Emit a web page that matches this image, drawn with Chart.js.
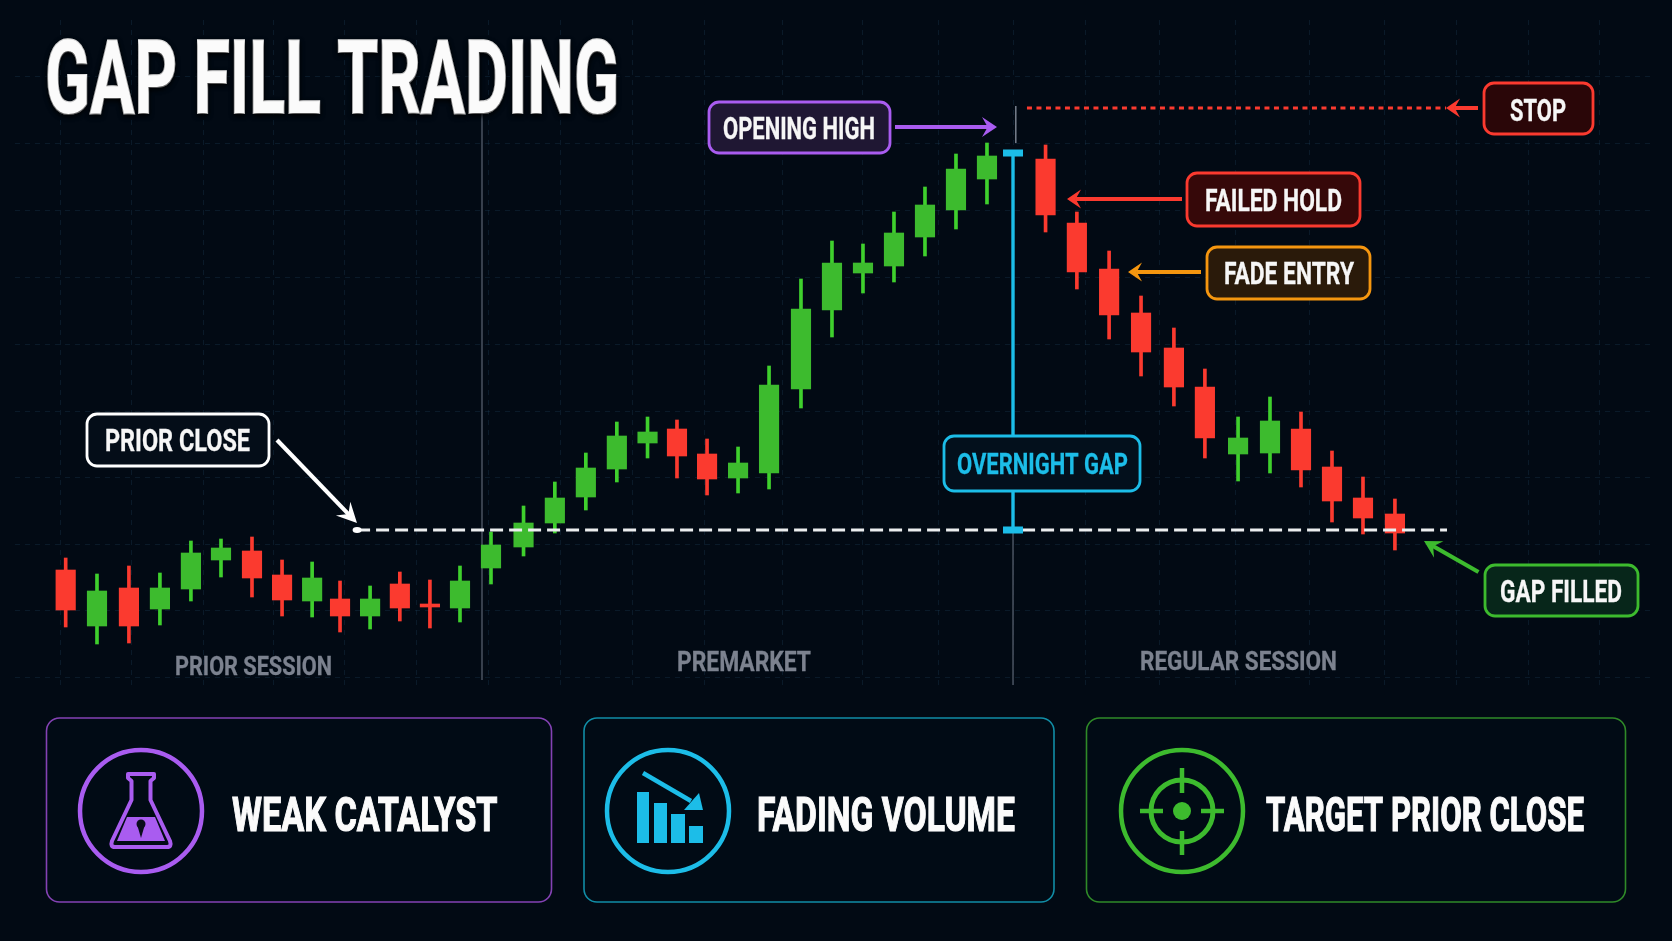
<!DOCTYPE html>
<html>
<head>
<meta charset="utf-8">
<title>Gap Fill Trading</title>
<style>
html,body{margin:0;padding:0;background:#020a14;overflow:hidden}
canvas{display:block}
</style>
<script src="https://cdn.jsdelivr.net/npm/chart.js@4/dist/chart.umd.min.js"></script>
</head>
<body>
<canvas id="c" width="1672" height="941"></canvas>
<script>
// ---- data ----
const slots=[0,1.01,2.04,3.04,4.04,5.01,6.01,6.98,7.95,8.85,9.82,10.78,11.75,12.72,13.72,14.77,15.78,16.78,17.78,18.77,19.72,20.69,21.69,22.69,23.72,24.72,25.72,26.72,27.72,28.72,29.72,31.61,32.62,33.66,34.69,35.75,36.75,37.82,38.85,39.85,40.85,41.85,42.88];
const opens =[96.0,90.4,94.2,92.1,94.1,97.0,97.9,95.5,92.9,93.1,91.4,94.6,92.6,92.2,96.2,98.3,100.7,103.3,106.1,108.7,110.1,107.6,105.2,105.7,114.1,122.0,125.7,126.4,129.3,132.0,135.1,137.1,130.7,126.1,121.7,118.2,114.3,107.6,107.7,110.1,106.3,103.2,101.6];
const closes=[92.0,93.9,90.4,94.2,97.7,98.2,95.2,93.0,95.2,91.4,93.1,92.2,92.3,94.9,98.5,100.7,103.2,106.2,109.4,109.8,107.4,105.1,106.7,114.5,122.1,126.7,126.7,129.7,132.5,136.1,137.4,131.5,125.8,121.5,117.8,114.3,109.2,109.2,110.9,106.0,102.9,101.2,99.7];
const highs =[97.2,95.6,96.4,95.7,98.9,99.1,99.3,97.0,96.8,94.9,94.4,95.8,95.0,96.4,99.8,102.4,104.8,107.7,110.8,111.3,111.0,109.1,108.3,116.4,125.1,128.9,128.6,131.8,134.3,137.6,138.7,138.5,131.8,127.9,123.4,120.2,116.1,111.3,113.3,111.8,107.9,105.3,103.1];
const lows  =[90.3,88.6,88.7,90.5,92.9,95.3,93.3,91.4,91.3,89.8,90.1,90.9,90.2,90.8,94.6,97.4,99.7,102.0,104.8,107.2,105.2,103.5,103.7,104.1,112.2,119.3,123.7,124.8,127.4,130.1,132.6,129.8,124.1,119.1,115.4,112.4,107.2,104.9,105.7,104.3,100.8,99.6,98.0];
const priorClose=100, gapTop=137.7, stopLevel=142.2;
const gridSlots=[-0.18,2.11,4.43,6.72,9.01,11.33,13.65,15.97,18.27,20.62,23.11,25.72,28.17,30.56,32.91,35.3,37.75,40.14,42.56,44.88,47.2,49.49];
const gridPrices=[145.3,138.7,132,125.3,118.6,111.9,105.2,98.6,92,85.3];
const titleText="GAP FILL TRADING";
const sessions=["PRIOR SESSION","PREMARKET","REGULAR SESSION"];
const calloutTexts=["PRIOR CLOSE","OPENING HIGH","STOP","FAILED HOLD","FADE ENTRY","OVERNIGHT GAP","GAP FILLED"];
const cardTexts=["WEAK CATALYST","FADING VOLUME","TARGET PRIOR CLOSE"];

// ---- styles ----
const GREEN='#3dbb2e',GREENW='#3fd02d',RED='#fb3a2f',PURPLE='#a95cf0',CYAN='#1cbde8',ORANGE='#f5960f',WHITE='#ffffff',GREY='#4f5765',BG='#020a14';
const FONT='"Liberation Sans Narrow","Roboto","Liberation Sans",sans-serif';
const up=i=>closes[i]>=opens[i];

function fitText(ctx,t,l,r,capTop,capBot,color,extra){
  ctx.save();
  ctx.font='bold 100px '+FONT;
  const capRef=ctx.measureText('H').actualBoundingBoxAscent||72;
  const size=100*(capBot-capTop)/capRef;
  ctx.font='bold '+size+'px '+FONT;
  const w=ctx.measureText(t).width;
  ctx.textBaseline='alphabetic';ctx.textAlign='left';
  ctx.translate(l,capBot);ctx.scale((r-l)/w,1);
  ctx.fillStyle=color;
  if(extra&&extra.stroke){ctx.strokeStyle=color;ctx.lineWidth=extra.stroke;ctx.lineJoin='miter';ctx.miterLimit=3;ctx.strokeText(t,0,0);}
  ctx.fillText(t,0,0);
  ctx.restore();
}
function rr(ctx,x,y,w,h,r,fill,stroke,lw){
  ctx.beginPath();ctx.roundRect(x,y,w,h,r);
  if(fill){ctx.fillStyle=fill;ctx.fill();}
  if(stroke){ctx.strokeStyle=stroke;ctx.lineWidth=lw;ctx.stroke();}
}
function arrow(ctx,x1,y1,x2,y2,color,lw,len,half){
  const a=Math.atan2(y2-y1,x2-x1),c=Math.cos(a),s=Math.sin(a);
  ctx.strokeStyle=color;ctx.fillStyle=color;ctx.lineWidth=lw;
  ctx.beginPath();ctx.moveTo(x1,y1);ctx.lineTo(x2-c*len*0.6,y2-s*len*0.6);ctx.stroke();
  ctx.beginPath();ctx.moveTo(x2,y2);
  ctx.lineTo(x2-c*len-s*half,y2-s*len+c*half);
  ctx.lineTo(x2-c*len*0.62,y2-s*len*0.62);
  ctx.lineTo(x2-c*len+s*half,y2-s*len-c*half);
  ctx.closePath();ctx.fill();
}
function callout(ctx,t,b,tx,color,fill){
  rr(ctx,b[0],b[1],b[2]-b[0],b[3]-b[1],10,fill,color,2.8);
  fitText(ctx,t,tx[0],tx[1],tx[2],tx[3],tx[4]||'#f6f6f6',{stroke:0.3});
}
function lineSet(data,color,width,dash,order){
  return {type:'line',data,borderColor:color,borderWidth:width,borderDash:dash||[],pointRadius:0,order,tension:0,fill:false,parsing:{xAxisKey:'x',yAxisKey:'y'}};
}

const annotations={
  id:'annotations',
  beforeDraw(chart){
    const c=chart.ctx;c.save();c.fillStyle=BG;c.fillRect(0,0,chart.width,chart.height);c.restore();
  },
  afterDatasetsDraw(chart){
    const c=chart.ctx,X=chart.scales.x,Y=chart.scales.y;
    c.save();c.lineCap='butt';
    // gap caps
    const gx=X.getPixelForValue(30.56);
    c.fillStyle=CYAN;
    c.fillRect(gx-10,Y.getPixelForValue(gapTop)-3.5,20,7);
    c.fillRect(gx-10,Y.getPixelForValue(priorClose)-3.5,20,7);
    // prior close dot
    c.fillStyle=WHITE;c.beginPath();c.ellipse(X.getPixelForValue(9.4),Y.getPixelForValue(priorClose),4.5,3,0,0,7);c.fill();
    // title
    c.save();c.shadowColor='rgba(0,0,0,.9)';c.shadowBlur=5;c.shadowOffsetY=2;
    fitText(c,titleText,45,619,39,113,'#fbfbfb',{stroke:2.2});
    c.restore();
    // session labels
    const sc='#7c828f';
    fitText(c,sessions[0],175,332,657,675,sc,{stroke:.3});
    fitText(c,sessions[1],677,811,651,671,sc,{stroke:.3});
    fitText(c,sessions[2],1140,1337,651,670,sc,{stroke:.3});
    // arrows
    arrow(c,277,440,357,523,WHITE,4.2,20,10);
    arrow(c,895,127,997,127,PURPLE,4.2,15,10);
    arrow(c,1478,108,1446,108,RED,4,14,9.5);
    arrow(c,1182,199,1067,199,RED,4,14,9.5);
    arrow(c,1201,272,1128,272,ORANGE,4,14,9.5);
    arrow(c,1478.5,572,1424,541,GREEN,4.2,17,9.5);
    // callouts
    callout(c,calloutTexts[0],[87,414,269,466],[105,250,429,451],WHITE,'#040d18');
    callout(c,calloutTexts[1],[709,102,890,153],[723,875,117,139],PURPLE,'#1f1733');
    callout(c,calloutTexts[2],[1484,83,1593,134],[1510,1566,98,121],RED,'#2a0608');
    callout(c,calloutTexts[3],[1187,173,1360,226],[1205,1342,188,211],RED,'#360809');
    callout(c,calloutTexts[4],[1207,247,1370,299],[1224,1354,262,284],ORANGE,'#2a1a0a');
    callout(c,calloutTexts[5],[944,436,1140,491],[957,1128,453,474,CYAN],CYAN,'#03101c');
    callout(c,calloutTexts[6],[1485,565,1638,616],[1500,1622,580,602],GREEN,'#07261a');
    // cards
    const cardY=718,cardH=184;
    rr(c,46.5,cardY,505,cardH,13,'#010b15','#8442b4',1.6);
    rr(c,584,cardY,470,cardH,13,'#010b15','#118da6',1.6);
    rr(c,1086.5,cardY,539,cardH,13,'#010b15','#2f8a28',1.6);
    fitText(c,cardTexts[0],232,497.5,796,831,'#fbfbfb',{stroke:1.2});
    fitText(c,cardTexts[1],757,1015,796,831,'#fbfbfb',{stroke:1.2});
    fitText(c,cardTexts[2],1266,1584,796,831,'#fbfbfb',{stroke:1.2});
    // icon 1: flask
    const cy=811,R=61;
    c.lineWidth=4.5;c.strokeStyle=PURPLE;c.beginPath();c.arc(141,cy,R,0,7);c.stroke();
    c.lineWidth=4;c.lineJoin='round';
    c.beginPath();c.moveTo(128,774);c.lineTo(154,774);c.lineTo(154,778);c.lineTo(150.5,781);c.lineTo(150.5,800);
    c.lineTo(170,841);c.quadraticCurveTo(172,847,167,847);c.lineTo(115,847);c.quadraticCurveTo(110,847,112,841);
    c.lineTo(131.5,800);c.lineTo(131.5,781);c.lineTo(128,778);c.closePath();c.stroke();
    c.fillStyle=PURPLE;
    c.beginPath();c.moveTo(127,817);c.lineTo(155,817);c.lineTo(165,841);c.lineTo(117,841);c.closePath();c.fill();
    c.fillStyle='#0a0d1c';
    c.beginPath();c.arc(141,824,4.5,0,7);c.fill();
    c.beginPath();c.moveTo(137.5,826);c.lineTo(144.5,826);c.lineTo(141,838);c.closePath();c.fill();
    // icon 2: bars
    c.lineWidth=4.5;c.strokeStyle=CYAN;c.beginPath();c.arc(668,cy,R,0,7);c.stroke();
    c.fillStyle=CYAN;
    c.fillRect(637,792,12,51);c.fillRect(654,803,13,40);c.fillRect(671,814,14,29);c.fillRect(689,826,14,17);
    c.beginPath();c.moveTo(643,773);c.lineTo(691,801);c.lineWidth=4.5;c.stroke();
    c.beginPath();c.moveTo(703,810);c.lineTo(684,810);c.lineTo(699,793);c.closePath();c.fill();
    // icon 3: target
    c.strokeStyle='#3dbb2e';c.lineWidth=4.5;c.beginPath();c.arc(1182,cy,R,0,7);c.stroke();
    c.lineWidth=5;c.beginPath();c.arc(1182,cy,31,0,7);c.stroke();
    c.fillStyle='#3dbb2e';c.beginPath();c.arc(1182,cy,9,0,7);c.fill();
    c.lineWidth=4.5;c.beginPath();
    c.moveTo(1182,768);c.lineTo(1182,793);c.moveTo(1182,831);c.lineTo(1182,855);
    c.moveTo(1140,cy);c.lineTo(1163,cy);c.moveTo(1201,cy);c.lineTo(1224,cy);c.stroke();
    c.restore();
  }
};

new Chart(document.getElementById('c'),{
  type:'bar',
  plugins:[annotations],
  data:{datasets:[
    lineSet([{x:9.4,y:priorClose},{x:44.56,y:priorClose}],'#eceeef',3,[13,6],0),
    lineSet([{x:31.01,y:stopLevel},{x:44.53,y:stopLevel}],RED,3,[5,4.5],1),
    lineSet([{x:30.56,y:priorClose},{x:30.56,y:gapTop}],CYAN,3.4,[],2),
    lineSet([{x:13.43,y:85},{x:13.43,y:141.7}],GREY,1.4,[],8),
    lineSet([{x:30.56,y:84.5},{x:30.56,y:priorClose}],GREY,1.4,[],8),
    lineSet([{x:30.65,y:138.7},{x:30.65,y:142.4}],'#7f8794',1.4,[],8),
    {label:'body',data:slots.map((s,i)=>({x:s,y:[opens[i],closes[i]]})),
      backgroundColor:slots.map((s,i)=>up(i)?GREEN:RED),barThickness:19.5,grouped:false,order:5,borderSkipped:false,borderWidth:0},
    {label:'wick',data:slots.map((s,i)=>({x:s,y:[lows[i],highs[i]]})),
      backgroundColor:slots.map((s,i)=>up(i)?GREENW:RED),barThickness:3,grouped:false,order:6,borderSkipped:false,borderWidth:0}
  ]},
  options:{
    responsive:false,animation:false,devicePixelRatio:1,
    layout:{padding:{left:15,right:17,top:20,bottom:251}},
    plugins:{legend:{display:false},tooltip:{enabled:false},title:{display:false}},
    scales:{
      x:{type:'linear',min:-1.635,max:51.27,offset:false,
        afterBuildTicks:s=>{s.ticks=gridSlots.map(v=>({value:v}));},
        grid:{offset:false,color:'rgba(36,80,108,.24)',lineWidth:1,drawTicks:false},
        border:{display:false,dash:[5,5]},ticks:{display:false,autoSkip:false}},
      y:{type:'linear',min:84,max:151,
        afterBuildTicks:s=>{s.ticks=gridPrices.map(v=>({value:v}));},
        grid:{color:'rgba(36,80,108,.24)',lineWidth:1,drawTicks:false},
        border:{display:false,dash:[5,5]},ticks:{display:false,autoSkip:false}}
    }
  }
});
</script>
</body>
</html>
